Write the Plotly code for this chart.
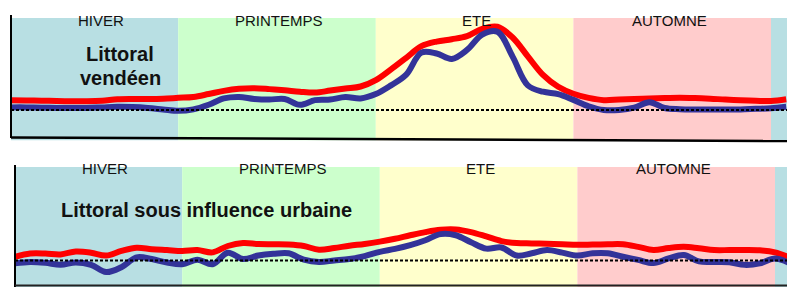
import plotly.graph_objects as go

# ---------------- data ----------------
weeks = list(range(52))

vendee_red = [1.34, 1.33, 1.32, 1.31, 1.30, 1.30, 1.32, 1.37, 1.38, 1.38,
              1.39, 1.42, 1.45, 1.55, 1.66, 1.73, 1.75, 1.72, 1.68, 1.63,
              1.60, 1.67, 1.74, 1.81, 2.03, 2.40, 2.80, 3.20, 3.36, 3.44,
              3.55, 3.80, 3.87, 3.50, 2.85, 2.21, 1.80, 1.56, 1.42, 1.34,
              1.36, 1.38, 1.40, 1.41, 1.42, 1.41, 1.39, 1.36, 1.34, 1.32,
              1.31, 1.37]
vendee_blue = [1.09, 1.09, 1.08, 1.07, 1.07, 1.07, 1.09, 1.11, 1.10, 1.07,
               1.02, 0.97, 1.02, 1.18, 1.40, 1.45, 1.38, 1.36, 1.38, 1.18,
               1.34, 1.36, 1.45, 1.40, 1.55, 1.85, 2.22, 2.98, 2.95, 2.76,
               3.07, 3.60, 3.70, 2.84, 1.85, 1.63, 1.55, 1.35, 1.13, 1.00,
               1.00, 1.08, 1.27, 1.07, 1.03, 1.02, 1.02, 1.02, 1.02, 1.04,
               1.06, 1.11]

urbain_red = [1.13, 1.24, 1.24, 1.21, 1.31, 1.27, 1.17, 1.33, 1.44, 1.39,
              1.36, 1.33, 1.36, 1.28, 1.50, 1.60, 1.57, 1.56, 1.55, 1.50,
              1.37, 1.43, 1.51, 1.57, 1.65, 1.75, 1.87, 1.98, 2.06, 2.07,
              1.98, 1.83, 1.67, 1.60, 1.59, 1.58, 1.56, 1.54, 1.55, 1.56,
              1.56, 1.47, 1.36, 1.43, 1.47, 1.42, 1.36, 1.36, 1.36, 1.35,
              1.28, 1.10]
urbain_blue = [0.90, 0.95, 0.92, 0.85, 0.93, 0.85, 0.60, 0.77, 1.11, 1.05,
               0.93, 0.87, 1.03, 0.87, 1.27, 1.05, 1.17, 1.23, 1.25, 1.03,
               0.95, 1.00, 1.05, 1.15, 1.30, 1.40, 1.53, 1.70, 1.91, 1.87,
               1.63, 1.41, 1.45, 1.17, 1.25, 1.36, 1.27, 1.17, 1.25, 1.25,
               1.13, 1.02, 0.91, 1.07, 1.19, 0.97, 0.95, 0.94, 0.85, 0.90,
               1.07, 0.90]

seasons = ["HIVER", "PRINTEMPS", "ETE", "AUTOMNE", ""]
season_starts = [-3, 11, 24, 37, 50]
season_ends = [11, 24, 37, 50, 63]
season_label_x = [5.9, 17.6, 30.6, 43.3]
season_colors = ["#B8DFE3", "#CCFFCC", "#FFFFCC", "#FFCCCC", "#B8DFE3"]
reference_level = 1.0

W, H = 787, 287
FONT = "Arial, Liberation Sans, sans-serif"

def py(px):
    return 1 - px / H

fig = go.Figure()

panels = [
    dict(x="x", y="y", red=vendee_red, blue=vendee_blue),
    dict(x="x2", y="y2", red=urbain_red, blue=urbain_blue),
]
for p in panels:
    fig.add_trace(go.Scatter(x=weeks, y=p["red"], xaxis=p["x"], yaxis=p["y"],
                             mode="lines", line=dict(color="#FF0000", width=6, shape="spline", smoothing=1.0),
                             showlegend=False, hoverinfo="skip"))
    fig.add_trace(go.Scatter(x=weeks, y=p["blue"], xaxis=p["x"], yaxis=p["y"],
                             mode="lines", line=dict(color="#333399", width=6, shape="spline", smoothing=1.0),
                             showlegend=False, hoverinfo="skip"))

shapes = []
for xr, yr in [("x", "y"), ("x2", "y2")]:
    for s0, s1, c in zip(season_starts, season_ends, season_colors):
        shapes.append(dict(type="rect", xref=xr, yref=yr + " domain", x0=s0, x1=s1,
                           y0=-0.01, y1=1, fillcolor=c, line=dict(width=0), layer="below"))
    shapes.append(dict(type="line", xref=xr + " domain", yref=yr, x0=0, x1=1,
                       y0=reference_level, y1=reference_level,
                       line=dict(color="black", width=2, dash="3px,2px"), layer="above"))

# axis lines
shapes.append(dict(type="line", xref="paper", yref="paper", x0=11 / W, x1=11 / W,
                   y0=py(138), y1=py(15), line=dict(color="black", width=2)))
shapes.append(dict(type="line", xref="paper", yref="paper", x0=11 / W, x1=1,
                   y0=py(137.5), y1=py(141), line=dict(color="black", width=2.5)))
shapes.append(dict(type="line", xref="paper", yref="paper", x0=15 / W, x1=15 / W,
                   y0=0, y1=py(165), line=dict(color="black", width=2)))
shapes.append(dict(type="line", xref="paper", yref="paper", x0=15 / W, x1=1,
                   y0=py(285.5), y1=py(285.5), line=dict(color="#222222", width=2)))

annotations = []
for xr, ypx in [("x", 20.5), ("x2", 168)]:
    for name, lx in zip(seasons[:4], season_label_x):
        annotations.append(dict(x=lx, xref=xr, y=py(ypx), yref="paper", text=name,
                                showarrow=False, xanchor="center", yanchor="middle",
                                font=dict(family=FONT, size=15, color="#111111")))

annotations += [
    dict(x=119.5 / W, y=py(54), xref="paper", yref="paper", text="<b>Littoral</b>",
         showarrow=False, xanchor="center", yanchor="middle",
         font=dict(family=FONT, size=20, color="#111111")),
    dict(x=120.5 / W, y=py(77.5), xref="paper", yref="paper", text="<b>vendéen</b>",
         showarrow=False, xanchor="center", yanchor="middle",
         font=dict(family=FONT, size=20, color="#111111")),
    dict(x=206.7 / W, y=py(209.5), xref="paper", yref="paper",
         text="<b>Littoral sous influence urbaine</b>",
         showarrow=False, xanchor="center", yanchor="middle",
         font=dict(family=FONT, size=20, color="#111111")),
]

k = 29.0
v0 = 1 - 26.5 / k  # bottom panel: reference level sits 26.5 px above the panel bottom
fig.update_layout(
    width=W, height=H,
    margin=dict(l=0, r=0, t=0, b=0),
    paper_bgcolor="white", plot_bgcolor="white",
    xaxis=dict(domain=[11 / W, 1], range=[0, (W - 11) / 15.2], visible=False, fixedrange=True),
    yaxis=dict(domain=[py(139), py(18)], range=[0, 121 / k], visible=False, fixedrange=True),
    xaxis2=dict(domain=[15 / W, 1], range=[0, (W - 15) / 15.2], visible=False, fixedrange=True, anchor="y2"),
    yaxis2=dict(domain=[0, py(167)], range=[v0, v0 + 120 / k], visible=False, fixedrange=True, anchor="x2"),
    shapes=shapes,
    annotations=annotations,
    showlegend=False,
)

fig.write_html("out.html", config={"displayModeBar": False})

# remove the default page margin so the figure sits at the window origin
with open("out.html", "r", encoding="utf-8") as f:
    html = f.read()
html = html.replace("<head>", "<head><style>html,body{margin:0;padding:0;overflow:hidden;}</style>", 1)
with open("out.html", "w", encoding="utf-8") as f:
    f.write(html)
